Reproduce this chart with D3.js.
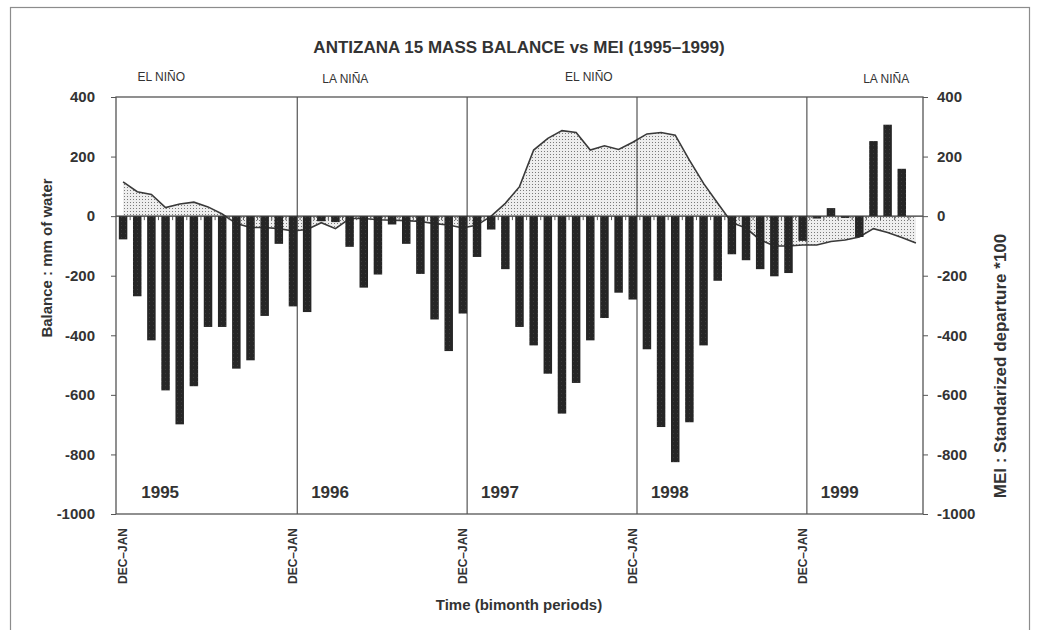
<!DOCTYPE html>
<html>
<head>
<meta charset="utf-8">
<script src="https://cdn.jsdelivr.net/npm/d3@7"></script>
<style>
  html, body { margin: 0; padding: 0; background: #fff; }
  svg { display: block; font-family: "Liberation Sans", Arial, sans-serif; }
</style>
</head>
<body>
<svg id="chart" width="1038" height="630"></svg>
<script>
// Bimonthly periods, Dec-Jan 1995 through late 1999 (running two-month windows)
const periods = d3.range(57);
// Glacier mass balance, mm w.e. per bimonthly period (null = no measurement)
const balance = [
  -78, -269, -417, -585, -699, -571, -372, -372, -512, -484, -335, -93,
  -303, -322, -17, -20, -103, -240, -196, -28, -93, -194, -347, -453,
  -327, -137, -45, -178, -372, -434, -529, -663, -560, -417, -342, -257,
  -280, -447, -708, -826, -692, -434, -217, -128, -148, -178, -202, -191,
  -83, -8, 27, -6, -70, 252, 307, 159, null
];
// Multivariate ENSO Index, standardized departure x100
const mei = [
  115, 82, 73, 29, 41, 47, 31, 7, -25, -38, -38, -42,
  -50, -45, -22, -42, -8, -8, -12, -14, -15, -18, -25, -30,
  -40, -30, 0, 43, 99, 222, 261, 287, 281, 222, 236, 224,
  248, 276, 281, 272, 188, 110, 43, -22, -40, -80, -100, -100,
  -97, -97, -85, -80, -70, -42, -55, -72, -90
];
const yTicks = [400, 200, 0, -200, -400, -600, -800, -1000];
const years = ["1995", "1996", "1997", "1998", "1999"];
const yearStart = [0, 12, 24, 36, 48];   // index of each DEC-JAN period
const ensoPhases = ["EL NIÑO", "LA NIÑA", "EL NIÑO", "LA NIÑA"];
const ensoCenters = [2.7, 15.7, 32.9, 53.9]; // period position of each phase label

const svg = d3.select("#chart");
const plot = { left: 116, right: 923, top: 97, bottom: 514 };

const x = d3.scaleBand().domain(periods)
  .range([plot.left, plot.right]).paddingInner(0.4).paddingOuter(0.2);
const y = d3.scaleLinear().domain([-1000, 400]).range([plot.bottom, plot.top]);
const cx = i => x(i) + x.bandwidth() / 2;
const xPos = d3.scaleLinear().domain([0, 56]).range([cx(0), cx(56)]);

// fill patterns: light stipple for the MEI area, dark texture for the bars
const defs = svg.append("defs");
const dots = defs.append("pattern").attr("id", "stipple")
  .attr("width", 3).attr("height", 3).attr("patternUnits", "userSpaceOnUse");
dots.append("rect").attr("width", 3).attr("height", 3).attr("fill", "#eeeeee");
dots.append("rect").attr("x", 1).attr("y", 1).attr("width", 1).attr("height", 1).attr("fill", "#7a7a7a");
const dark = defs.append("pattern").attr("id", "darkfill")
  .attr("width", 4).attr("height", 4).attr("patternUnits", "userSpaceOnUse");
dark.append("rect").attr("width", 4).attr("height", 4).attr("fill", "#262626");
dark.append("rect").attr("x", 1).attr("y", 1).attr("width", 1).attr("height", 1).attr("fill", "#3c3c3c");

// outer frame
svg.append("rect").attr("x", 10.5).attr("y", 7.5).attr("width", 1019).attr("height", 640)
  .attr("fill", "none").attr("stroke", "#8c8c8c").attr("stroke-width", 1.2);

// title
svg.append("text").attr("x", 519).attr("y", 53).attr("text-anchor", "middle")
  .attr("font-size", 17).attr("font-weight", "bold").attr("fill", "#333")
  .text("ANTIZANA 15 MASS BALANCE vs MEI (1995\u20131999)");

// ENSO phase labels
svg.append("g").selectAll("text").data(ensoPhases).join("text")
  .attr("x", (d, i) => xPos(ensoCenters[i]))
  .attr("y", (d, i) => i % 2 ? 83 : 81)
  .attr("text-anchor", "middle").attr("font-size", 12).attr("fill", "#333")
  .text(d => d);

// MEI area and line
const area = d3.area().x((d, i) => cx(i)).y0(y(0)).y1(d => y(d));
const line = d3.line().x((d, i) => cx(i)).y(d => y(d));
svg.append("path").datum(mei).attr("d", area).attr("fill", "url(#stipple)");
svg.append("path").datum(mei).attr("d", line)
  .attr("fill", "none").attr("stroke", "#3a3a3a").attr("stroke-width", 1.6);

// mass balance bars
svg.append("g").selectAll("rect")
  .data(balance.map((v, i) => ({ v, i })).filter(d => d.v !== null))
  .join("rect")
  .attr("x", d => x(d.i))
  .attr("width", x.bandwidth())
  .attr("y", d => y(Math.max(0, d.v)))
  .attr("height", d => Math.abs(y(d.v) - y(0)))
  .attr("fill", "url(#darkfill)");

// zero axis with period ticks
svg.append("line").attr("x1", plot.left).attr("x2", plot.right)
  .attr("y1", y(0)).attr("y2", y(0)).attr("stroke", "#333").attr("stroke-width", 1.2);
const step = x.step();
svg.append("g").selectAll("line").data(periods.slice(0, -1)).join("line")
  .attr("x1", i => x(i) + x.bandwidth() + step * 0.2)
  .attr("x2", i => x(i) + x.bandwidth() + step * 0.2)
  .attr("y1", y(0)).attr("y2", y(0) + 4)
  .attr("stroke", "#555").attr("stroke-width", 1);

// year dividers
svg.append("g").selectAll("line").data(yearStart.slice(1)).join("line")
  .attr("x1", i => x(i) + x.bandwidth()).attr("x2", i => x(i) + x.bandwidth())
  .attr("y1", plot.top).attr("y2", plot.bottom)
  .attr("stroke", "#333").attr("stroke-width", 1);

// plot frame
svg.append("rect").attr("x", plot.left).attr("y", plot.top)
  .attr("width", plot.right - plot.left).attr("height", plot.bottom - plot.top)
  .attr("fill", "none").attr("stroke", "#555").attr("stroke-width", 1.3);

// left and right axes
const fmt = d => String(d);
const leftAxis = d3.axisLeft(y).tickValues(yTicks).tickFormat(fmt).tickSize(5).tickPadding(16);
const rightAxis = d3.axisRight(y).tickValues(yTicks).tickFormat(fmt).tickSize(5).tickPadding(9);
const gl = svg.append("g").attr("transform", `translate(${plot.left},0)`).call(leftAxis);
const gr = svg.append("g").attr("transform", `translate(${plot.right},0)`).call(rightAxis);
[gl, gr].forEach(g => {
  g.select(".domain").remove();
  g.selectAll(".tick line").attr("stroke", "#555");
  g.selectAll(".tick text").attr("font-size", 15).attr("font-weight", "bold")
    .attr("fill", "#333").attr("font-family", "Liberation Sans, Arial, sans-serif");
});

// year labels
svg.append("g").selectAll("text").data(years).join("text")
  .attr("x", (d, i) => cx(yearStart[i] + 1) + 4)
  .attr("y", 498)
  .attr("font-size", 17).attr("font-weight", "bold").attr("fill", "#333")
  .text(d => d);

// DEC-JAN labels under each year start
svg.append("g").selectAll("text").data(yearStart).join("text")
  .attr("transform", i => `translate(${cx(i) + 4},${584}) rotate(-90)`)
  .attr("font-size", 12).attr("font-weight", "bold").attr("fill", "#333")
  .text("DEC\u2013JAN");

// axis titles
svg.append("text").attr("x", 519).attr("y", 610).attr("text-anchor", "middle")
  .attr("font-size", 15).attr("font-weight", "bold").attr("fill", "#333")
  .text("Time (bimonth periods)");
svg.append("text").attr("transform", "translate(52,258) rotate(-90)")
  .attr("text-anchor", "middle").attr("font-size", 15).attr("font-weight", "bold").attr("fill", "#333")
  .text("Balance : mm of water");
svg.append("text").attr("transform", "translate(1006,366) rotate(-90)")
  .attr("text-anchor", "middle").attr("font-size", 17).attr("font-weight", "bold").attr("fill", "#333")
  .text("MEI : Standarized departure *100");
</script>
</body>
</html>
